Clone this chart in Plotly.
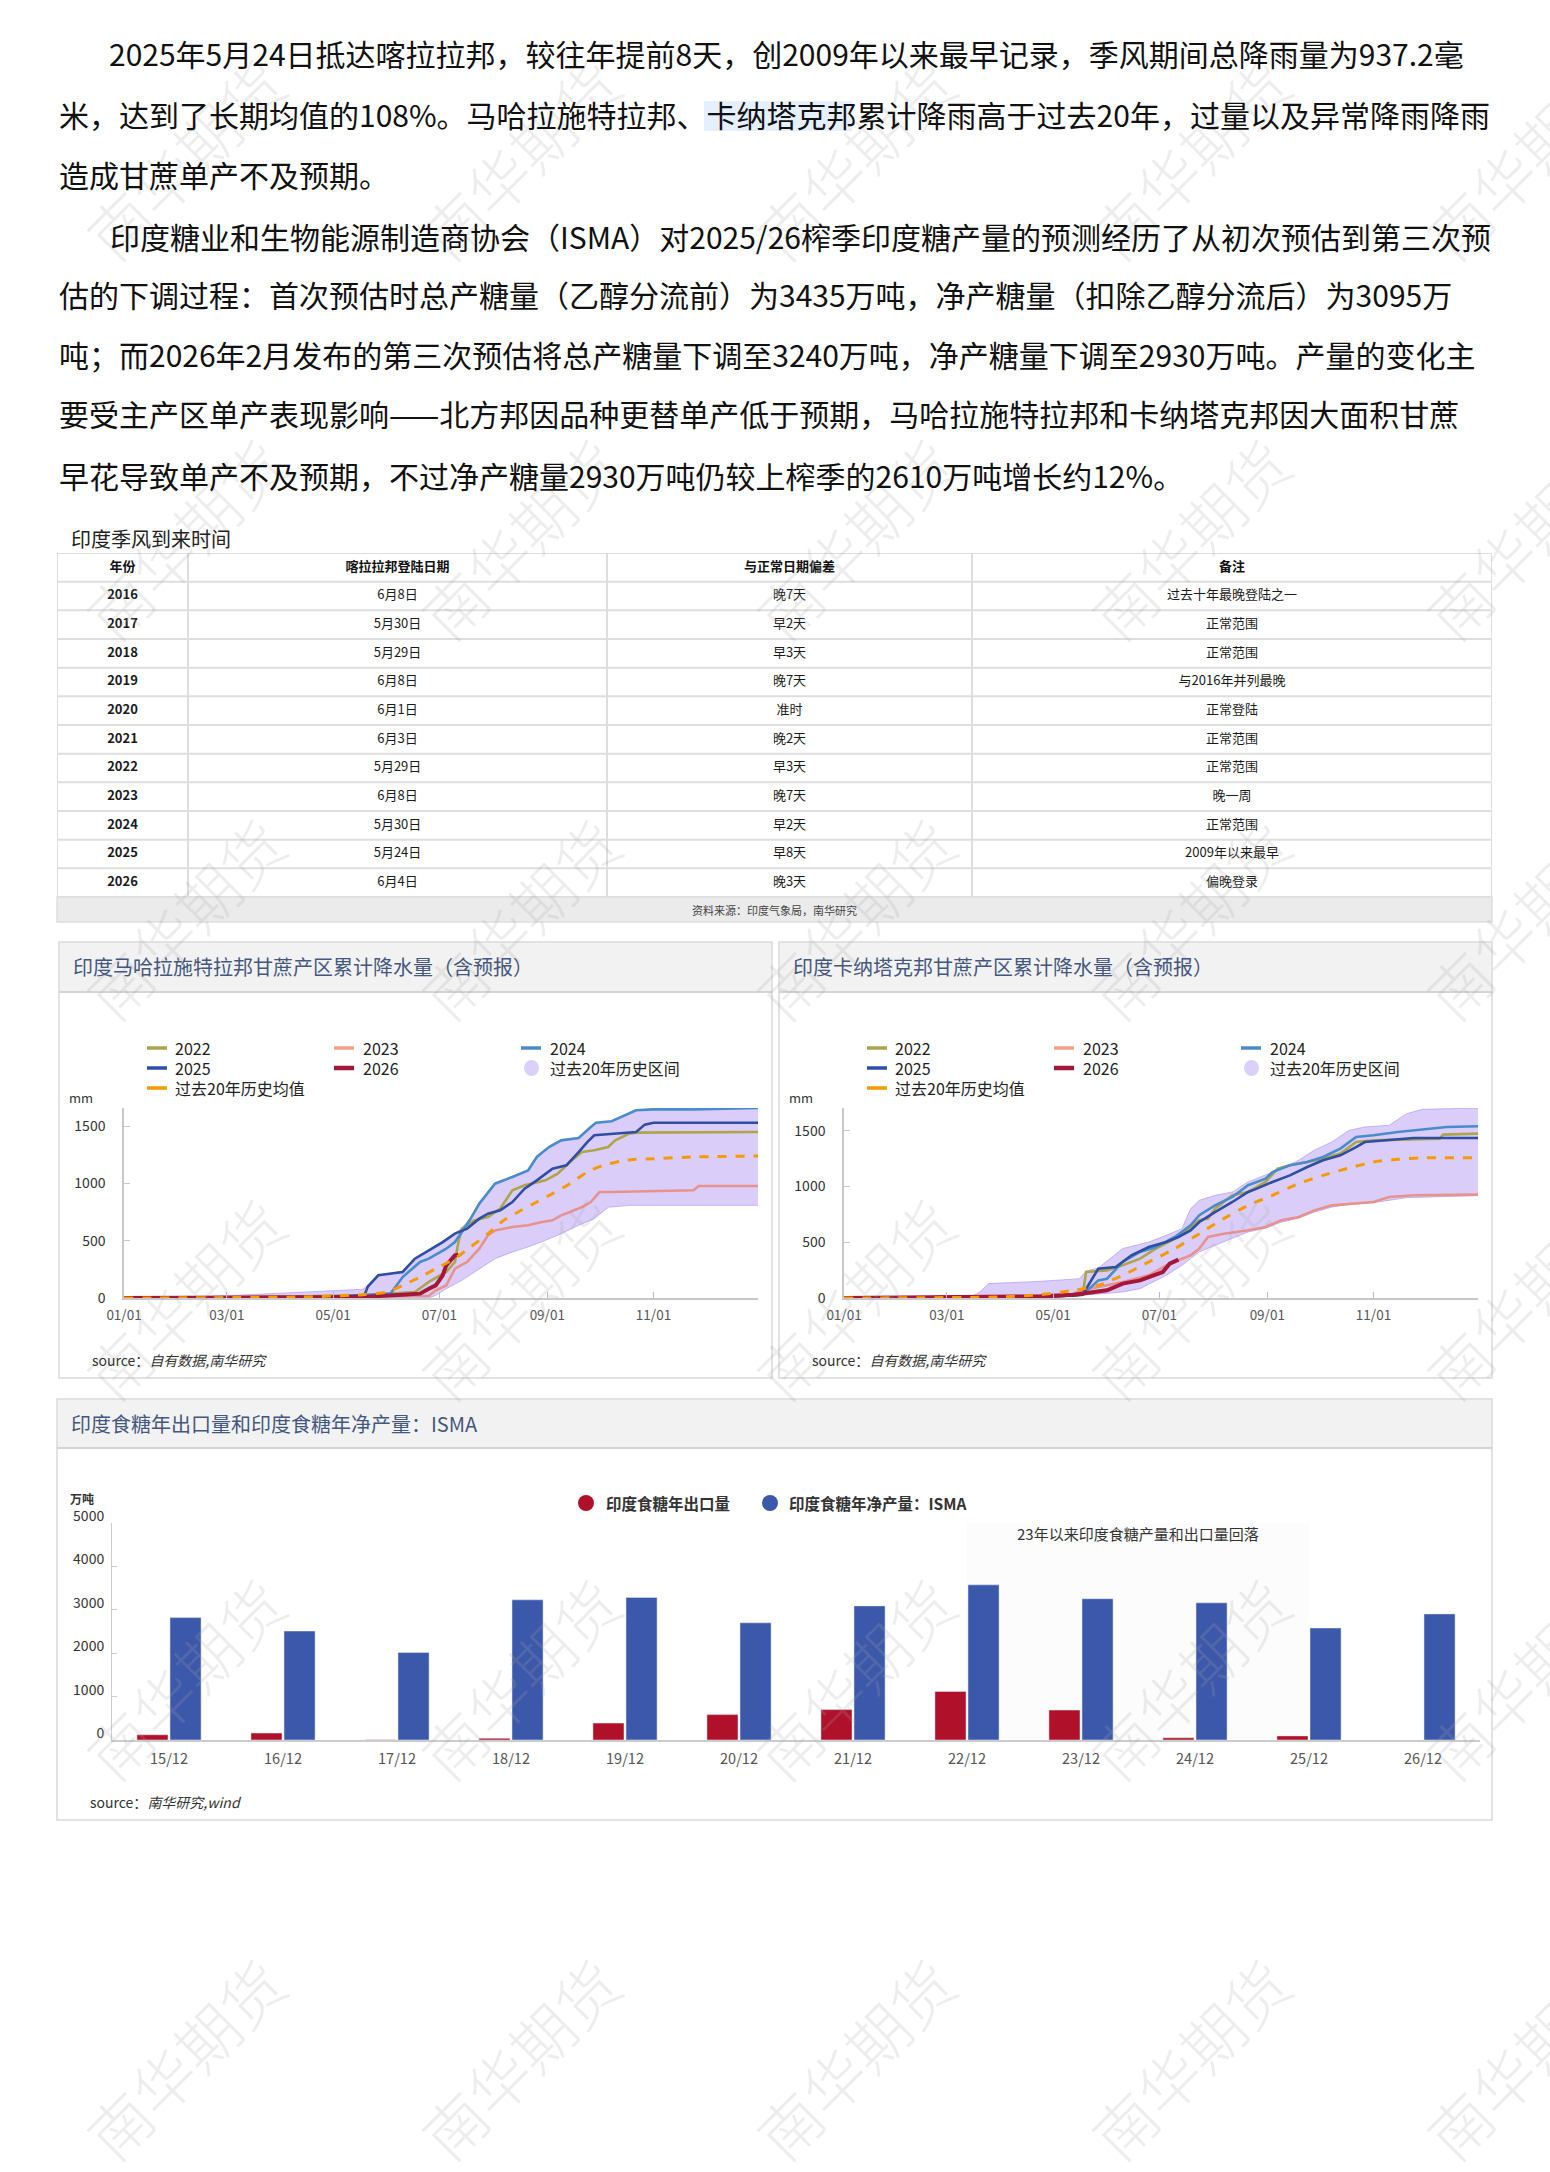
import plotly.graph_objects as go

W, H = 1550, 2172
FONT = "Noto Sans CJK SC"


def px(x):
    return x / W


def py(y):
    return 1 - y / H


# ---------------- text paragraphs ----------------
para_lines = [
    "2025年5月24日抵达喀拉拉邦，较往年提前8天，创2009年以来最早记录，季风期间总降雨量为937.2毫",
    "米，达到了长期均值的108%。马哈拉施特拉邦、卡纳塔克邦累计降雨高于过去20年，过量以及异常降雨降雨",
    "造成甘蔗单产不及预期。",
    "印度糖业和生物能源制造商协会（ISMA）对2025/26榨季印度糖产量的预测经历了从初次预估到第三次预",
    "估的下调过程：首次预估时总产糖量（乙醇分流前）为3435万吨，净产糖量（扣除乙醇分流后）为3095万",
    "吨；而2026年2月发布的第三次预估将总产糖量下调至3240万吨，净产糖量下调至2930万吨。产量的变化主",
    "要受主产区单产表现影响——北方邦因品种更替单产低于预期，马哈拉施特拉邦和卡纳塔克邦因大面积甘蔗",
    "早花导致单产不及预期，不过净产糖量2930万吨仍较上榨季的2610万吨增长约12%。",
]

# ---------------- table data ----------------
tbl_title = "印度季风到来时间"
tbl_header = ["年份", "喀拉拉邦登陆日期", "与正常日期偏差", "备注"]
tbl_years = ["2016", "2017", "2018", "2019", "2020", "2021", "2022", "2023", "2024", "2025", "2026"]
tbl_dates = ["6月8日", "5月30日", "5月29日", "6月8日", "6月1日", "6月3日", "5月29日", "6月8日", "5月30日", "5月24日", "6月4日"]
tbl_devs = ["晚7天", "早2天", "早3天", "晚7天", "准时", "晚2天", "早3天", "晚7天", "早2天", "早8天", "晚3天"]
tbl_notes = ["过去十年最晚登陆之一", "正常范围", "正常范围", "与2016年并列最晚", "正常登陆", "正常范围",
             "正常范围", "晚一周", "正常范围", "2009年以来最早", "偏晚登录"]
tbl_source = "资料来源：印度气象局，南华研究"
tbl_colw = [131, 419, 365, 520]

# ---------------- Maharashtra cumulative rainfall (mm) ----------------
mh_2022_d = ["01-01", "04-01", "05-20", "06-17", "06-25", "07-05", "07-10", "07-12", "07-14", "07-21", "07-29",
             "08-05", "08-12", "08-19", "08-31", "09-07", "09-14", "09-21", "09-28", "10-06", "10-10", "10-18",
             "10-22", "12-11", "12-31"]
mh_2022_v = [0, 10, 25, 52, 140, 227, 314, 488, 605, 677, 706, 779, 939, 983, 1026, 1084, 1186, 1273, 1288,
             1317, 1375, 1433, 1442, 1442, 1448]
mh_2023_d = ["01-01", "05-01", "06-25", "06-29", "07-05", "07-10", "07-17", "07-24", "07-29", "08-02", "08-12",
             "08-21", "08-29", "09-04", "09-09", "09-14", "09-21", "09-26", "10-01", "10-08", "11-08", "11-24",
             "11-27", "12-31"]
mh_2023_v = [0, 10, 20, 67, 110, 256, 314, 430, 547, 590, 619, 634, 663, 677, 721, 750, 794, 837, 924, 924,
             930, 939, 977, 977]
mh_2024_d = ["01-01", "05-01", "06-03", "06-10", "06-20", "06-25", "07-05", "07-10", "07-14", "07-19", "07-24",
             "07-29", "08-02", "08-12", "08-21", "08-26", "09-02", "09-09", "09-19", "09-26", "09-29", "10-08",
             "10-18", "10-22", "11-01", "11-24", "12-31"]
mh_2024_v = [0, 10, 38, 183, 314, 343, 430, 488, 576, 692, 823, 924, 997, 1055, 1113, 1230, 1317, 1375, 1395,
             1491, 1529, 1541, 1608, 1637, 1645, 1645, 1657]
mh_2025_d = ["01-01", "05-01", "05-19", "05-21", "05-27", "06-10", "06-17", "06-25", "07-03", "07-10", "07-17",
             "07-24", "07-29", "08-05", "08-12", "08-19", "08-26", "09-04", "09-12", "09-19", "09-24", "09-28",
             "10-08", "10-22", "10-27", "11-01", "12-31"]
mh_2025_v = [0, 10, 23, 100, 198, 227, 343, 416, 488, 561, 605, 692, 735, 765, 837, 953, 1026, 1128, 1157, 1273,
             1360, 1419, 1433, 1448, 1512, 1529, 1529]
mh_2026_d = ["01-01", "04-13", "05-18", "06-10", "06-20", "06-25", "06-29", "07-03", "07-05", "07-10", "07-12"]
mh_2026_v = [0, 5, 9, 29, 38, 81, 110, 198, 285, 372, 378]
mh_mean_d = ["01-01", "04-13", "05-18", "06-01", "06-10", "06-20", "06-29", "07-10", "07-19", "07-29", "08-07",
             "08-17", "08-26", "09-04", "09-14", "09-24", "10-03", "10-13", "10-22", "11-01", "11-24", "12-31"]
mh_mean_v = [0, 9, 29, 52, 110, 183, 256, 343, 445, 561, 677, 765, 837, 910, 997, 1099, 1157, 1192, 1209, 1215,
             1230, 1238]
mh_lo_d = ["01-01", "06-25", "06-29", "07-05", "07-14", "07-24", "08-02", "08-12", "08-21", "08-31", "09-09",
           "09-19", "09-28", "10-06", "10-18", "11-20", "12-31"]
mh_lo_v = [0, 0, 23, 81, 154, 256, 343, 401, 445, 503, 561, 634, 692, 791, 808, 808, 808]
mh_hi_d = ["01-01", "02-12", "03-15", "04-13", "05-18", "05-21", "05-27", "06-10", "06-25", "07-10", "07-14",
           "07-19", "07-24", "08-02", "08-12", "08-21", "08-26", "09-02", "09-09", "09-19", "09-26", "09-29",
           "10-08", "10-18", "10-22", "11-01", "11-24", "12-31"]
mh_hi_v = [0, 10, 30, 52, 76, 110, 198, 235, 420, 565, 610, 700, 840, 1000, 1058, 1116, 1233, 1320, 1378, 1398,
           1494, 1532, 1544, 1611, 1640, 1648, 1652, 1657]

# ---------------- Karnataka cumulative rainfall (mm) ----------------
ka_2022_d = ["01-01", "05-01", "05-18", "05-20", "06-01", "06-10", "06-20", "06-29", "07-10", "07-17", "07-24",
             "07-29", "08-02", "08-12", "08-21", "08-31", "09-07", "09-14", "09-24", "10-03", "10-13", "10-22",
             "11-01", "12-09", "12-11", "12-31"]
ka_2022_v = [0, 15, 30, 233, 248, 293, 353, 443, 532, 607, 697, 712, 801, 921, 951, 1041, 1160, 1190, 1220,
             1250, 1295, 1399, 1414, 1429, 1465, 1474]
ka_2023_d = ["01-01", "04-01", "05-09", "05-18", "05-27", "06-10", "06-25", "07-05", "07-12", "07-19", "07-24",
             "07-29", "08-07", "08-21", "08-31", "09-09", "09-19", "09-28", "10-08", "10-18", "11-01", "11-10",
             "11-24", "12-31"]
ka_2023_v = [0, 10, 20, 69, 99, 144, 203, 293, 338, 383, 443, 547, 577, 607, 637, 697, 727, 786, 831, 846, 861,
             906, 921, 927]
ka_2024_d = ["01-01", "05-01", "05-18", "05-27", "06-01", "06-10", "06-20", "06-29", "07-10", "07-19", "07-24",
             "08-02", "08-12", "08-21", "08-31", "09-04", "09-14", "09-24", "10-03", "10-13", "10-22", "11-01",
             "11-15", "12-02", "12-13", "12-31"]
ka_2024_v = [0, 15, 30, 158, 173, 323, 413, 457, 547, 652, 742, 831, 906, 1011, 1070, 1130, 1190, 1220, 1265,
             1340, 1444, 1459, 1489, 1519, 1534, 1540]
ka_2025_d = ["01-01", "05-01", "05-18", "05-27", "06-06", "06-15", "06-25", "07-05", "07-12", "07-19", "07-24",
             "08-02", "08-12", "08-21", "08-26", "09-04", "09-14", "09-24", "10-03", "10-13", "10-22", "10-27",
             "11-24", "12-31"]
ka_2025_v = [0, 15, 30, 263, 278, 383, 457, 502, 547, 607, 682, 771, 861, 951, 981, 1041, 1100, 1175, 1235, 1280,
             1354, 1399, 1435, 1435]
ka_2026_d = ["01-01", "03-31", "04-24", "05-13", "05-23", "06-01", "06-10", "06-20", "06-25", "07-03", "07-07",
             "07-12"]
ka_2026_v = [0, 9, 15, 30, 48, 69, 129, 158, 188, 233, 308, 344]
ka_mean_d = ["01-01", "03-31", "04-24", "05-13", "05-27", "06-10", "06-25", "07-10", "07-24", "08-07", "08-21",
             "09-04", "09-19", "10-03", "10-18", "11-01", "11-15", "11-29", "12-31"]
ka_mean_v = [0, 9, 30, 69, 114, 203, 323, 443, 577, 712, 831, 921, 1026, 1100, 1166, 1220, 1244, 1256, 1259]
ka_lo_d = ["01-01", "04-24", "05-18", "06-10", "06-20", "07-05", "07-14", "07-24", "08-02", "08-12", "08-21",
           "08-31", "09-09", "09-19", "09-28", "10-08", "10-18", "11-01", "11-20", "12-31"]
ka_lo_v = [0, 0, 24, 54, 84, 203, 293, 413, 472, 532, 592, 625, 680, 715, 770, 815, 840, 855, 900, 918]
ka_hi_d = ["01-01", "03-15", "03-20", "03-25", "04-24", "05-16", "05-20", "05-27", "06-10", "06-25", "07-05",
           "07-14", "07-19", "07-24", "08-02", "08-12", "08-21", "08-31", "09-09", "09-19", "09-28", "10-08",
           "10-18", "10-27", "11-10", "11-20", "11-29", "12-31"]
ka_hi_v = [0, 10, 54, 129, 150, 173, 240, 270, 443, 502, 562, 622, 801, 876, 921, 951, 1041, 1100, 1160, 1235,
           1325, 1399, 1504, 1534, 1549, 1653, 1692, 1704]

line_legend = ["2022", "2023", "2024", "2025", "2026", "过去20年历史区间", "过去20年历史均值"]

# ---------------- sugar bars (万吨) ----------------
seasons = ["15/12", "16/12", "17/12", "18/12", "19/12", "20/12", "21/12", "22/12", "23/12", "24/12", "25/12", "26/12"]
sugar_export = [120, 160, 8, 40, 390, 585, 700, 1120, 690, 50, 95, None]
sugar_prod = [2820, 2510, 2015, 3230, 3285, 2700, 3090, 3575, 3255, 3160, 2580, 2905]
bar_names = ["印度食糖年出口量", "印度食糖年净产量：ISMA"]
bar_note = "23年以来印度食糖产量和出口量回落"

# ---------------- colours ----------------
C2022, C2023, C2024, C2025, C2026 = "#aca54a", "#e8928e", "#4a8bcc", "#2f4ea3", "#a3173a"
CMEAN = "#f59a00"
BAND_FILL = "rgba(182,156,245,0.5)"
BAND_LINE = "rgba(165,135,240,0.55)"
CRED, CBLUE = "#b0102a", "#3c58aa"
TITLE_C = "#45577f"

fig = go.Figure()


def dts(lst):
    return ["2025-" + s for s in lst]


def add_rain(xa, ya, lo_d, lo_v, hi_d, hi_v, series, mean_d, mean_v, r26_d, r26_v):
    fig.add_trace(go.Scatter(x=dts(lo_d), y=lo_v, mode="lines", line=dict(color=BAND_LINE, width=1),
                             xaxis=xa, yaxis=ya, showlegend=False, hoverinfo="skip"))
    fig.add_trace(go.Scatter(x=dts(hi_d), y=hi_v, mode="lines", line=dict(color=BAND_LINE, width=1),
                             fill="tonexty", fillcolor=BAND_FILL, xaxis=xa, yaxis=ya, showlegend=False))
    for d, v, c in series:
        fig.add_trace(go.Scatter(x=dts(d), y=v, mode="lines", line=dict(color=c, width=2.6),
                                 xaxis=xa, yaxis=ya, showlegend=False))
    fig.add_trace(go.Scatter(x=dts(r26_d), y=r26_v, mode="lines", line=dict(color=C2026, width=4),
                             xaxis=xa, yaxis=ya, showlegend=False))
    fig.add_trace(go.Scatter(x=dts(mean_d), y=mean_v, mode="lines",
                             line=dict(color=CMEAN, width=3, dash="dash", shape="spline", smoothing=0.6),
                             xaxis=xa, yaxis=ya, showlegend=False))


add_rain("x", "y", mh_lo_d, mh_lo_v, mh_hi_d, mh_hi_v,
         [(mh_2023_d, mh_2023_v, C2023), (mh_2022_d, mh_2022_v, C2022),
          (mh_2024_d, mh_2024_v, C2024), (mh_2025_d, mh_2025_v, C2025)],
         mh_mean_d, mh_mean_v, mh_2026_d, mh_2026_v)
add_rain("x2", "y2", ka_lo_d, ka_lo_v, ka_hi_d, ka_hi_v,
         [(ka_2023_d, ka_2023_v, C2023), (ka_2022_d, ka_2022_v, C2022),
          (ka_2024_d, ka_2024_v, C2024), (ka_2025_d, ka_2025_v, C2025)],
         ka_mean_d, ka_mean_v, ka_2026_d, ka_2026_v)

# bars
fig.add_trace(go.Bar(x=seasons, y=sugar_export, name=bar_names[0], marker_color=CRED,
                     xaxis="x3", yaxis="y3", showlegend=False))
fig.add_trace(go.Bar(x=seasons, y=sugar_prod, name=bar_names[1], marker_color=CBLUE,
                     xaxis="x3", yaxis="y3", showlegend=False))

# table drawn on its own axis pair (x4: pixel columns, y4: row index)
col_edges = [0]
for w_ in tbl_colw:
    col_edges.append(col_edges[-1] + w_)
col_centers = [(col_edges[i] + col_edges[i + 1]) / 2 for i in range(len(tbl_colw))]
n_rows = len(tbl_years)
fig.add_trace(go.Scatter(x=col_centers, y=[0.5] * 4, mode="text",
                         text=["<b>%s</b>" % h for h in tbl_header],
                         textfont=dict(family=FONT, size=13, color="#111"),
                         xaxis="x4", yaxis="y4", showlegend=False, hoverinfo="skip"))
row_y = [i + 1.5 for i in range(n_rows)]
for ci, (col_vals, bold) in enumerate([(tbl_years, True), (tbl_dates, False), (tbl_devs, False), (tbl_notes, False)]):
    fig.add_trace(go.Scatter(x=[col_centers[ci]] * n_rows, y=row_y, mode="text",
                             text=["<b>%s</b>" % v if bold else v for v in col_vals],
                             textfont=dict(family=FONT, size=13, color="#1a1a1a"),
                             xaxis="x4", yaxis="y4", showlegend=False, hoverinfo="skip"))

shapes = []
annotations = []

# table grid
for r in range(n_rows + 2):
    shapes.append(dict(type="line", xref="x4", yref="y4", x0=0, x1=col_edges[-1], y0=r, y1=r,
                       line=dict(color="#dedede", width=2)))
for e in col_edges:
    shapes.append(dict(type="line", xref="x4", yref="y4", x0=e, x1=e, y0=0, y1=n_rows + 1,
                       line=dict(color="#dedede", width=2)))

# watermarks
for wy in [158, 538, 918, 1298, 1678, 2058]:
    for wx in [184, 519, 854, 1189, 1524]:
        annotations.append(dict(x=px(wx), y=py(wy), xref="paper", yref="paper", text="南华期货",
                                showarrow=False, textangle=-45, xanchor="center", yanchor="middle",
                                font=dict(family=FONT, size=62, color="rgba(165,165,165,0.2)", weight=300)))

# highlight behind 卡纳塔克邦
shapes.append(dict(type="rect", xref="paper", yref="paper", x0=px(704), x1=px(852), y0=py(131), y1=py(101),
                   fillcolor="#e6effd", line=dict(width=0), layer="below"))

# paragraphs
line_y = [53, 114, 174, 236, 294, 354, 413, 475]
line_x = [107, 57, 57, 108, 57, 57, 57, 57]
for t, yy, xx in zip(para_lines, line_y, line_x):
    annotations.append(dict(x=px(xx), y=py(yy), xref="paper", yref="paper", text=t, showarrow=False,
                            xanchor="left", yanchor="middle", font=dict(family=FONT, size=30, color="#111")))

# table title and source row
annotations.append(dict(x=px(69), y=py(538), xref="paper", yref="paper", text=tbl_title, showarrow=False,
                        xanchor="left", yanchor="middle", font=dict(family=FONT, size=20, color="#222")))
shapes.append(dict(type="rect", xref="paper", yref="paper", x0=px(57), x1=px(1492), y0=py(922), y1=py(897),
                   fillcolor="#ebebeb", line=dict(color="#dedede", width=1.5)))
annotations.append(dict(x=px(774), y=py(910), xref="paper", yref="paper", text=tbl_source, showarrow=False,
                        xanchor="center", yanchor="middle", font=dict(family=FONT, size=11, color="#444")))


def panel(x0, x1, y0, yband, y1, title, src):
    shapes.append(dict(type="rect", xref="paper", yref="paper", x0=px(x0), x1=px(x1), y0=py(y1), y1=py(y0),
                       fillcolor="white", line=dict(color="#d9d9d9", width=1.5), layer="below"))
    shapes.append(dict(type="rect", xref="paper", yref="paper", x0=px(x0 + 1), x1=px(x1 - 1), y0=py(yband),
                       y1=py(y0 + 1), fillcolor="#f2f2f2", line=dict(width=0), layer="below"))
    shapes.append(dict(type="line", xref="paper", yref="paper", x0=px(x0), x1=px(x1), y0=py(yband), y1=py(yband),
                       line=dict(color="#d4d4d4", width=2), layer="below"))
    annotations.append(dict(x=px(x0 + 12), y=py((y0 + yband) / 2), xref="paper", yref="paper", text=title,
                            showarrow=False, xanchor="left", yanchor="middle",
                            font=dict(family=FONT, size=20, color=TITLE_C)))
    annotations.append(dict(x=px(x0 + 31), y=py(y1 - 18), xref="paper", yref="paper", text=src,
                            showarrow=False, xanchor="left", yanchor="middle",
                            font=dict(family=FONT, size=14, color="#333")))


panel(59, 772, 942, 992, 1378, "印度马哈拉施特拉邦甘蔗产区累计降水量（含预报）", "source：<i>自有数据,南华研究</i>")
panel(779, 1492, 942, 992, 1378, "印度卡纳塔克邦甘蔗产区累计降水量（含预报）", "source：<i>自有数据,南华研究</i>")
panel(57, 1492, 1399, 1448, 1820, "印度食糖年出口量和印度食糖年净产量：ISMA", "source：<i>南华研究,wind</i>")

# manual legends for rain charts
leg_cols = [(147, 173), (334, 361), (521, 548)]
leg_rows = [1048, 1068, 1088]
leg_pos = [(0, 0), (1, 0), (2, 0), (0, 1), (1, 1), (2, 1), (0, 2)]
leg_colors = [C2022, "#f2a18c", C2024, C2025, C2026, None, CMEAN]
for off in [0, 720]:
    for name, (ci, ri), col in zip(line_legend, leg_pos, leg_colors):
        mx, tx = leg_cols[ci]
        yy = leg_rows[ri]
        if col is None:
            shapes.append(dict(type="circle", xref="paper", yref="paper", x0=px(mx + off + 3), x1=px(mx + off + 18),
                               y0=py(yy + 8), y1=py(yy - 8), fillcolor="#dcd0fa", line=dict(width=0)))
        else:
            shapes.append(dict(type="line", xref="paper", yref="paper", x0=px(mx + off), x1=px(mx + off + 20),
                               y0=py(yy), y1=py(yy), line=dict(color=col, width=4.5 if name == "2026" else 3.5)))
        annotations.append(dict(x=px(tx + off), y=py(yy), xref="paper", yref="paper", text=name, showarrow=False,
                                xanchor="left", yanchor="middle", font=dict(family=FONT, size=16, color="#222")))
    annotations.append(dict(x=px(81 + off), y=py(1097), xref="paper", yref="paper", text="mm", showarrow=False,
                            xanchor="center", yanchor="middle", font=dict(family=FONT, size=13, color="#333")))

# bar chart legend and labels
for cx, tx, col, name in [(586, 604, CRED, bar_names[0]), (770, 787, CBLUE, bar_names[1])]:
    shapes.append(dict(type="circle", xref="paper", yref="paper", x0=px(cx - 8), x1=px(cx + 8),
                       y0=py(1503 + 8), y1=py(1503 - 8), fillcolor=col, line=dict(width=0)))
    annotations.append(dict(x=px(tx), y=py(1503), xref="paper", yref="paper", text="<b>%s</b>" % name,
                            showarrow=False, xanchor="left", yanchor="middle",
                            font=dict(family=FONT, size=15.5, color="#333")))
annotations.append(dict(x=px(82), y=py(1498), xref="paper", yref="paper", text="<b>万吨</b>", showarrow=False,
                        xanchor="center", yanchor="middle", font=dict(family=FONT, size=12, color="#333")))
shapes.append(dict(type="rect", xref="x3", yref="y3", x0=seasons[7], x1=seasons[10], y0=0, y1=5000,
                   fillcolor="rgba(0,0,0,0.012)", line=dict(width=0), layer="below"))
annotations.append(dict(x=px(1138), y=py(1533), xref="paper", yref="paper", text=bar_note, showarrow=False,
                        xanchor="center", yanchor="middle", font=dict(family=FONT, size=15, color="#333")))

date_x = dict(type="date", range=["2025-01-01", "2025-12-31"], tickformat="%m/%d", dtick="M2",
              tick0="2025-01-01", ticks="inside", ticklen=6, tickcolor="#bdbdbd", showline=True,
              linecolor="#c8c8c8", linewidth=1.5, showgrid=False, zeroline=False,
              tickfont=dict(family=FONT, size=13.5, color="#555"), ticklabelstandoff=4)
rain_y = dict(tickvals=[0, 500, 1000, 1500], ticks="inside", ticklen=6, tickcolor="#c8c8c8", showline=True,
              linecolor="#c8c8c8", linewidth=1.5, showgrid=False, zeroline=False,
              tickfont=dict(family=FONT, size=14, color="#333"), ticklabelstandoff=14)

fig.update_layout(
    width=W, height=H, autosize=False,
    margin=dict(l=0, r=0, t=0, b=0, autoexpand=False),
    paper_bgcolor="white", plot_bgcolor="rgba(0,0,0,0)",
    font=dict(family=FONT, color="#222"),
    showlegend=False,
    barmode="group", bargap=0.42, bargroupgap=0.06,
    xaxis=dict(domain=[px(124), px(758)], anchor="y", **date_x),
    yaxis=dict(domain=[py(1298), py(1108)], anchor="x", range=[0, 1657], **rain_y),
    xaxis2=dict(domain=[px(844), px(1478)], anchor="y2", **date_x),
    yaxis2=dict(domain=[py(1298), py(1108)], anchor="x2", range=[0, 1704], **rain_y),
    xaxis3=dict(domain=[px(112), px(1480)], anchor="y3", type="category", showline=True, linecolor="#cccccc",
                linewidth=2, ticks="", showgrid=False, zeroline=False,
                tickfont=dict(family=FONT, size=14.5, color="#555"), ticklabelstandoff=5),
    yaxis3=dict(domain=[py(1740), py(1523)], anchor="x3", range=[0, 5000], tickvals=[0, 1000, 2000, 3000, 4000, 5000],
                ticks="inside", ticklen=5, tickcolor="#cccccc", showline=True, linecolor="#cccccc", linewidth=1,
                showgrid=False, zeroline=False, ticklabelshift=-7,
                tickfont=dict(family=FONT, size=14, color="#333"), ticklabelstandoff=4),
    xaxis4=dict(domain=[px(57), px(1492)], anchor="y4", range=[0, col_edges[-1]], visible=False, fixedrange=True),
    yaxis4=dict(domain=[py(553 + 28.67 * (n_rows + 1)), py(553)], anchor="x4", range=[n_rows + 1, 0],
                visible=False, fixedrange=True),
    shapes=shapes,
    annotations=annotations,
)

fig.write_html("out.html", config={"displayModeBar": False},
               post_script="document.body.style.margin='0';")
